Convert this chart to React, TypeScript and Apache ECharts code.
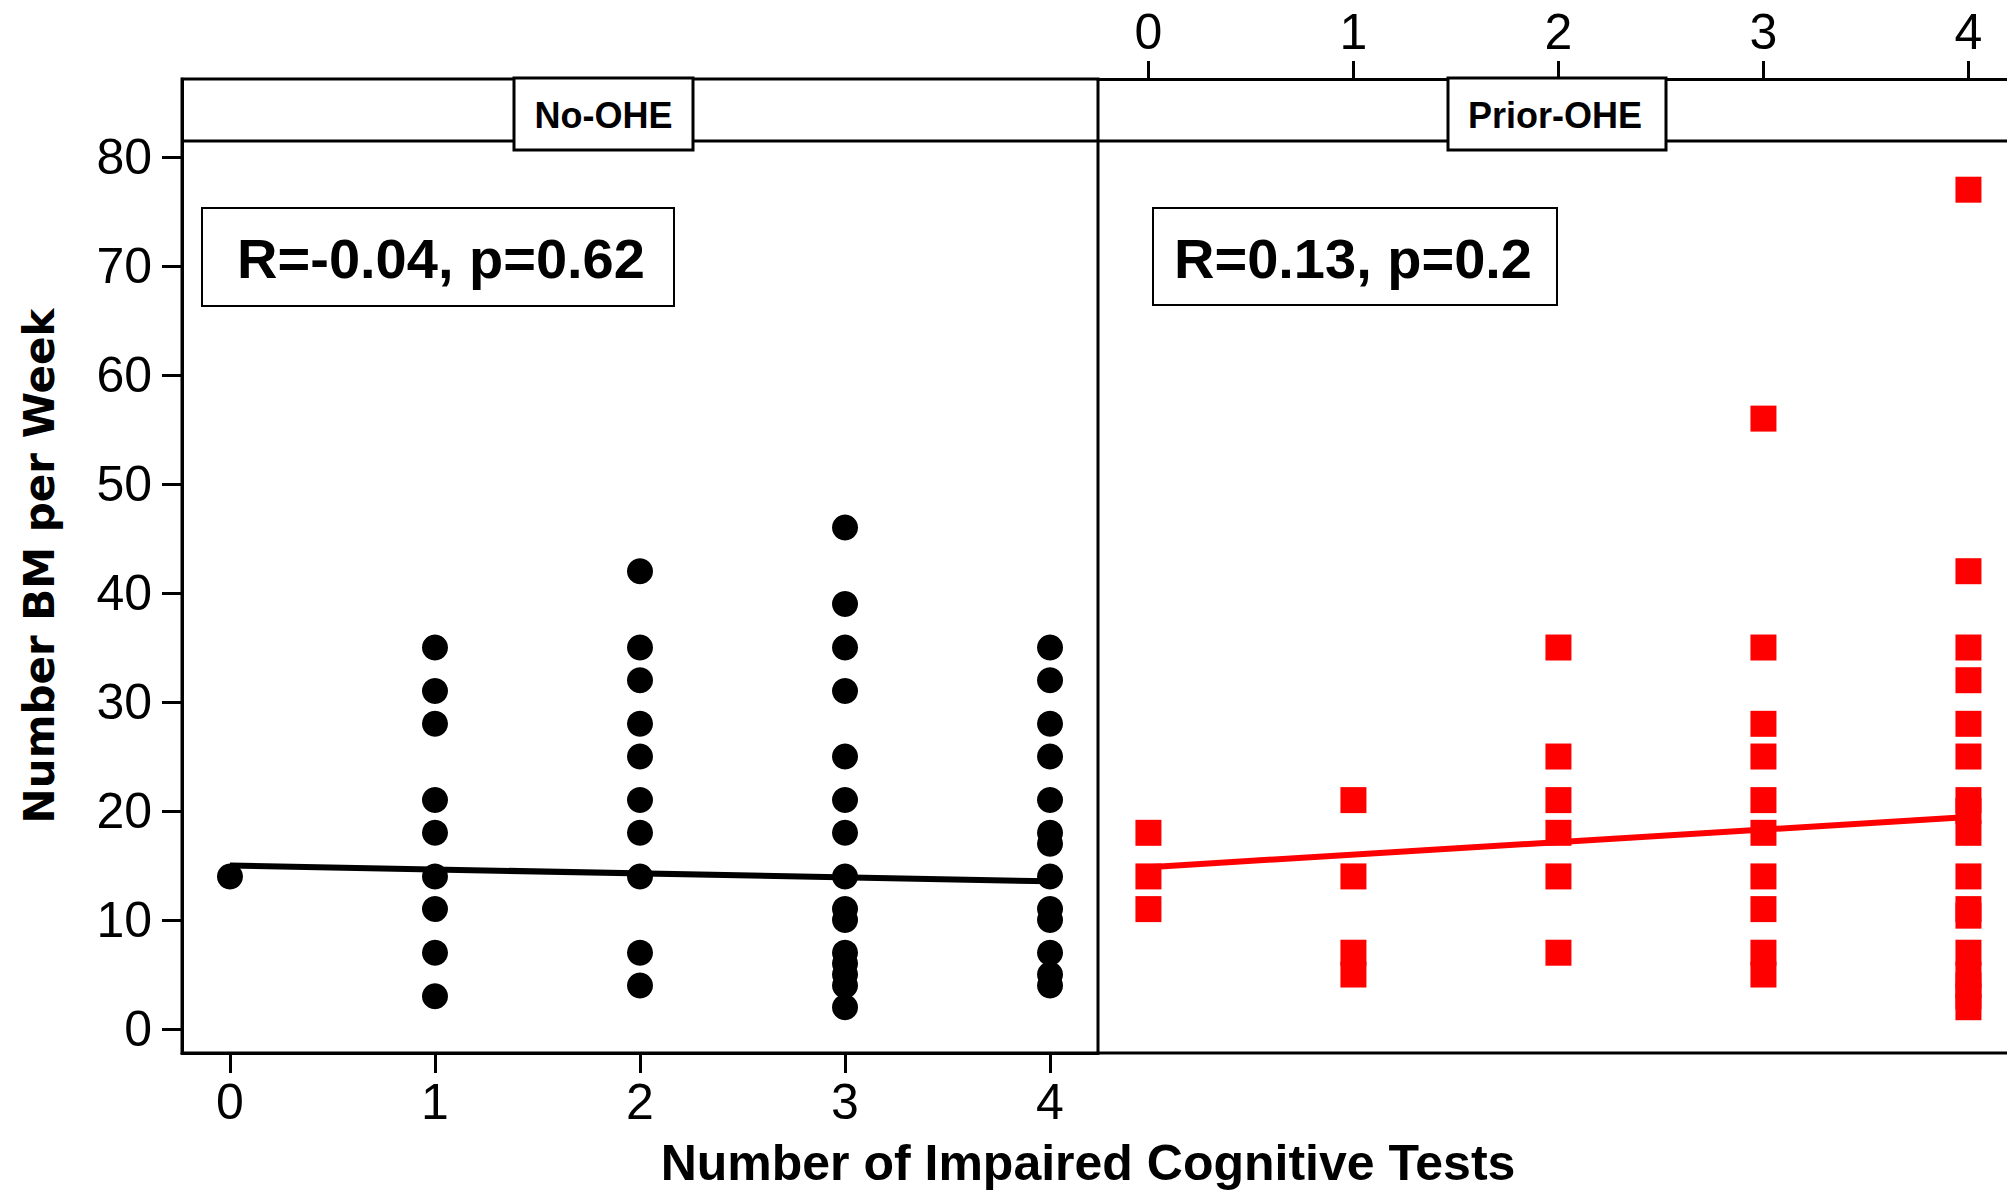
import React, { useEffect, useRef } from "react";
import * as echarts from "echarts";

// ---- Data ----
const xCategories = [0, 1, 2, 3, 4];
const yTicks = [0, 10, 20, 30, 40, 50, 60, 70, 80];

// No-OHE panel: BM per week values at each number of impaired tests
const noOhe0 = [14];
const noOhe1 = [35, 31, 28, 21, 18, 14, 11, 7, 3];
const noOhe2 = [42, 35, 32, 28, 25, 21, 18, 14, 7, 4];
const noOhe3 = [46, 39, 35, 31, 25, 21, 18, 14, 11, 10, 7, 6, 5, 4, 2];
const noOhe4 = [35, 32, 28, 25, 21, 18, 17, 14, 11, 10, 7, 5, 4];

// Prior-OHE panel
const prior0 = [18, 14, 11];
const prior1 = [21, 14, 7, 5];
const prior2 = [35, 25, 21, 18, 14, 7];
const prior3 = [56, 35, 28, 25, 21, 18, 14, 11, 7, 5];
const prior4 = [77, 42, 35, 32, 28, 25, 21, 20, 18, 14, 11, 10.4, 7, 5, 4, 3, 2];

// Fitted regression lines (values at x = 0 and x = 4)
const fitX = [0, 4];
const noOheFit = [15.0, 13.55];
const priorFit = [14.85, 19.45];

const noOheStat = "R=-0.04, p=0.62";
const priorStat = "R=0.13, p=0.2";
const panelNames = ["No-OHE", "Prior-OHE"];
const xTitle = "Number of Impaired Cognitive Tests";
const yTitle = "Number BM per Week";

// ---- helpers ----
const toPairs = (groups: number[][]) => {
  const out: number[][] = [];
  groups.forEach((vals, i) => vals.forEach((v) => out.push([xCategories[i], v])));
  return out;
};
const noOheData = toPairs([noOhe0, noOhe1, noOhe2, noOhe3, noOhe4]);
const priorData = toPairs([prior0, prior1, prior2, prior3, prior4]);
const noOheLine = fitX.map((x, i) => [x, noOheFit[i]]);
const priorLine = fitX.map((x, i) => [x, priorFit[i]]);

const tickFont = "'Liberation Sans', Arial, sans-serif";
const boldFont = "'Liberation Sans', Arial, sans-serif";

export default function App() {
  const ref = useRef<HTMLDivElement>(null);
  useEffect(() => {
    if (!ref.current) return;
    const chart = echarts.init(ref.current, null, { renderer: "svg", width: 2007, height: 1193 });

    const axisLineStyle = { color: "#000", width: 3 };
    const yMin = -2.2;
    const yMax = 87.156;

    const option: any = {
      animation: false,
      backgroundColor: "#fff",
      grid: [
        { left: 182, top: 79, width: 916, height: 974, show: true, borderColor: "#000", borderWidth: 3, backgroundColor: "transparent", containLabel: false },
        { left: 1098, top: 79, width: 909, height: 974, show: false, containLabel: false },
      ],
      xAxis: [
        {
          type: "value", gridIndex: 0, position: "bottom", min: -0.234, max: 4.234,
          axisLine: { show: true, onZero: false, lineStyle: axisLineStyle },
          axisTick: { show: true, length: 20, lineStyle: axisLineStyle, customValues: xCategories },
          axisLabel: { customValues: xCategories, fontSize: 50, fontFamily: tickFont, color: "#000", margin: 24 },
          splitLine: { show: false },
        },
        {
          type: "value", gridIndex: 1, position: "top", min: -0.246, max: 4.188,
          axisLine: { show: true, onZero: false, lineStyle: axisLineStyle },
          axisTick: { show: true, length: 18, lineStyle: axisLineStyle, customValues: xCategories },
          axisLabel: { customValues: xCategories, fontSize: 50, fontFamily: tickFont, color: "#000", margin: 22 },
          splitLine: { show: false },
        },
      ],
      yAxis: [
        {
          type: "value", gridIndex: 0, min: yMin, max: yMax,
          axisLine: { show: true, onZero: false, lineStyle: axisLineStyle },
          axisTick: { show: true, length: 20, lineStyle: axisLineStyle, customValues: yTicks },
          axisLabel: { customValues: yTicks, fontSize: 50, fontFamily: tickFont, color: "#000", margin: 30 },
          splitLine: { show: false },
        },
        {
          type: "value", gridIndex: 1, min: yMin, max: yMax, show: false,
          axisLine: { onZero: false },
          splitLine: { show: false },
        },
      ],
      series: [
        {
          type: "scatter", xAxisIndex: 0, yAxisIndex: 0, symbol: "circle", symbolSize: 26,
          itemStyle: { color: "#000", opacity: 1 }, data: noOheData, z: 2,
        },
        {
          type: "line", xAxisIndex: 0, yAxisIndex: 0, data: noOheLine, symbol: "none",
          lineStyle: { color: "#000", width: 6 }, z: 3,
        },
        {
          type: "scatter", xAxisIndex: 1, yAxisIndex: 1, symbol: "rect", symbolSize: 26,
          itemStyle: { color: "#ff0000", opacity: 1 }, data: priorData, z: 2,
        },
        {
          type: "line", xAxisIndex: 1, yAxisIndex: 1, data: priorLine, symbol: "none",
          lineStyle: { color: "#ff0000", width: 6 }, z: 3,
        },
      ],
      graphic: [
        { type: "line", shape: { x1: 1098, y1: 1053, x2: 2007, y2: 1053 }, style: { stroke: "#000", lineWidth: 3 }, z: 10 },
        { type: "line", shape: { x1: 182, y1: 141, x2: 2007, y2: 141 }, style: { stroke: "#000", lineWidth: 3 }, z: 10 },
        { type: "rect", shape: { x: 514, y: 78, width: 179, height: 72 }, style: { fill: "#fff", stroke: "#000", lineWidth: 3 }, z: 11 },
        { type: "text", x: 603.5, y: 115, style: { text: panelNames[0], fontSize: 36, fontWeight: "bold", fontFamily: boldFont, fill: "#000", align: "center", verticalAlign: "middle" }, z: 12 },
        { type: "rect", shape: { x: 1448, y: 78, width: 218, height: 72 }, style: { fill: "#fff", stroke: "#000", lineWidth: 3 }, z: 11 },
        { type: "text", x: 1555, y: 115, style: { text: panelNames[1], fontSize: 36, fontWeight: "bold", fontFamily: boldFont, fill: "#000", align: "center", verticalAlign: "middle" }, z: 12 },
        { type: "rect", shape: { x: 202, y: 208, width: 472, height: 98 }, style: { fill: "#fff", stroke: "#000", lineWidth: 2 }, z: 11 },
        { type: "text", x: 441, y: 258, style: { text: noOheStat, fontSize: 56, fontWeight: "bold", fontFamily: boldFont, fill: "#000", align: "center", verticalAlign: "middle" }, z: 12 },
        { type: "rect", shape: { x: 1153, y: 208, width: 404, height: 97 }, style: { fill: "#fff", stroke: "#000", lineWidth: 2 }, z: 11 },
        { type: "text", x: 1353, y: 258, style: { text: priorStat, fontSize: 56, fontWeight: "bold", fontFamily: boldFont, fill: "#000", align: "center", verticalAlign: "middle" }, z: 12 },
        { type: "text", x: 1088, y: 1163, style: { text: xTitle, fontSize: 50, fontWeight: "bold", fontFamily: boldFont, fill: "#000", align: "center", verticalAlign: "middle" }, z: 12 },
        { type: "text", x: 39, y: 566, rotation: Math.PI / 2, style: { text: yTitle, fontSize: 42, fontWeight: "bold", fontFamily: "'DejaVu Sans', sans-serif", fill: "#000", align: "center", verticalAlign: "middle" }, z: 12 },
      ],
    };
    chart.setOption(option);
    return () => chart.dispose();
  }, []);
  return (
    <div
      ref={ref}
      style={{ position: "fixed", left: 0, top: 0, width: 2007, height: 1193, background: "#fff" }}
    />
  );
}
